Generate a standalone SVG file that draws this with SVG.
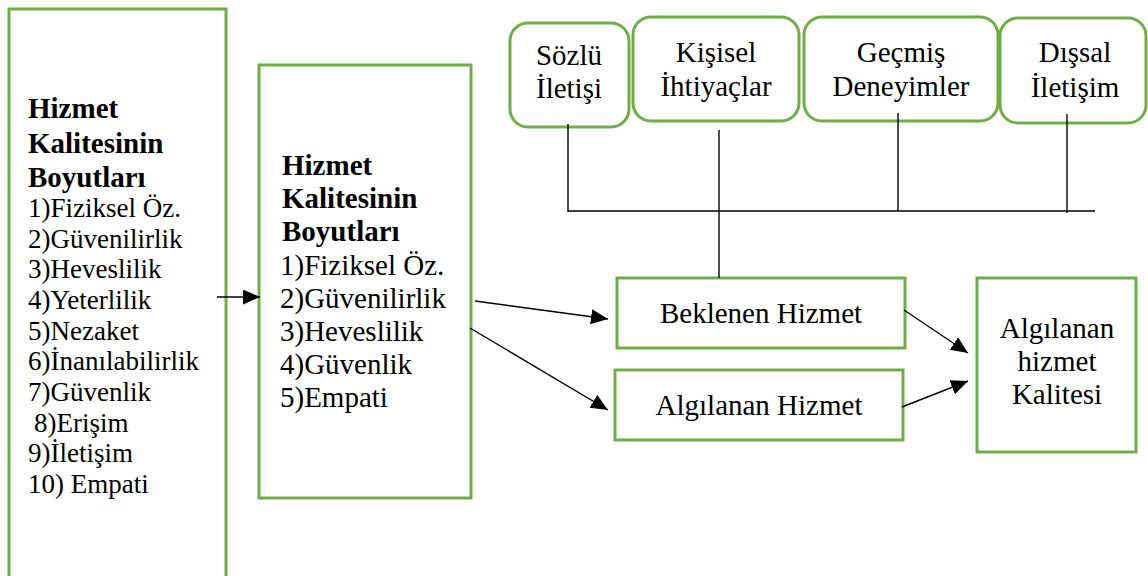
<svg xmlns="http://www.w3.org/2000/svg" width="1148" height="576" viewBox="0 0 1148 576">
<defs>
<style>
.box{fill:#fff;stroke:#70AD47;stroke-width:3}
.b{font-weight:bold}
.c{text-anchor:middle}
.ln{stroke:#000;stroke-width:1.4;fill:none}
</style>
<marker id="ah" markerUnits="userSpaceOnUse" markerWidth="18" markerHeight="16" refX="17" refY="7.5" orient="auto">
<path d="M0,0 L17,7.5 L0,15 Z" fill="#000"/>
</marker>
</defs>
<rect width="1148" height="576" fill="#fff"/>
<g font-family="Liberation Serif, Times New Roman, serif" fill="#000">
<g id="left">
<rect class="box" x="9" y="9" width="217" height="580"/>
<text class="b" font-size="29" x="28"><tspan y="118">Hizmet</tspan><tspan x="28" y="153">Kalitesinin</tspan><tspan x="28" y="187">Boyutları</tspan></text>
<text font-size="27" x="28"><tspan y="217">1)Fiziksel Öz.</tspan><tspan x="28" y="248">2)Güvenilirlik</tspan><tspan x="28" y="278">3)Heveslilik</tspan><tspan x="28" y="309">4)Yeterlilik</tspan><tspan x="28" y="340">5)Nezaket</tspan><tspan x="28" y="370">6)İnanılabilirlik</tspan><tspan x="28" y="401">7)Güvenlik</tspan><tspan x="34" y="432">8)Erişim</tspan><tspan x="28" y="462">9)İletişim</tspan><tspan x="28" y="493">10) Empati</tspan></text>
</g>

<g id="middle">
<rect class="box" x="259" y="65" width="212" height="433"/>
<text class="b" font-size="29" x="282"><tspan y="175">Hizmet</tspan><tspan x="282" y="208">Kalitesinin</tspan><tspan x="282" y="241">Boyutları</tspan></text>
<text font-size="29" x="280"><tspan y="275">1)Fiziksel Öz.</tspan><tspan x="280" y="308">2)Güvenilirlik</tspan><tspan x="280" y="341">3)Heveslilik</tspan><tspan x="280" y="374">4)Güvenlik</tspan><tspan x="280" y="407">5)Empati</tspan></text>
</g>

<g id="sozlu">
<rect class="box" x="510" y="23" width="119" height="104" rx="18"/>
<text class="c" font-size="29" x="569"><tspan y="65">Sözlü</tspan><tspan x="569" y="98">İletişi</tspan></text>
</g>
<g id="kisisel">
<rect class="box" x="633" y="17" width="166" height="104" rx="18"/>
<text class="c" font-size="29" x="716"><tspan y="62">Kişisel</tspan><tspan x="716" y="96">İhtiyaçlar</tspan></text>
</g>
<g id="gecmis">
<rect class="box" x="804" y="17" width="194" height="104" rx="18"/>
<text class="c" font-size="29" x="901"><tspan y="62">Geçmiş</tspan><tspan x="901" y="96">Deneyimler</tspan></text>
</g>
<g id="dissal">
<rect class="box" x="1000" y="18" width="146" height="105" rx="18"/>
<text class="c" font-size="29" x="1075"><tspan y="62">Dışsal</tspan><tspan x="1075" y="97">İletişim</tspan></text>
</g>

<g id="beklenen">
<rect class="box" x="617" y="278" width="288" height="70"/>
<text class="c" font-size="29" x="761" y="323">Beklenen Hizmet</text>
</g>
<g id="algilanan">
<rect class="box" x="615" y="370" width="288" height="70"/>
<text class="c" font-size="29" x="759" y="415">Algılanan Hizmet</text>
</g>
<g id="kalite">
<rect class="box" x="977" y="278" width="159" height="174"/>
<text class="c" font-size="29" x="1057"><tspan y="338">Algılanan</tspan><tspan x="1057" y="371">hizmet</tspan><tspan x="1057" y="404">Kalitesi</tspan></text>
</g>
</g>

<g id="connectors">
<path class="ln" d="M568,124 V212"/>
<path class="ln" d="M719,130 V278"/>
<path class="ln" d="M898,113 V211"/>
<path class="ln" d="M1067,114 V213"/>
<path class="ln" d="M568,211 H1095"/>
<path class="ln" d="M217,297 H260" marker-end="url(#ah)"/>
<path class="ln" d="M475,301 L608,319" marker-end="url(#ah)"/>
<path class="ln" d="M470,328 L608,410" marker-end="url(#ah)"/>
<path class="ln" d="M904,310 L968,353" marker-end="url(#ah)"/>
<path class="ln" d="M902,407 L968,381" marker-end="url(#ah)"/>
</g>
</svg>
